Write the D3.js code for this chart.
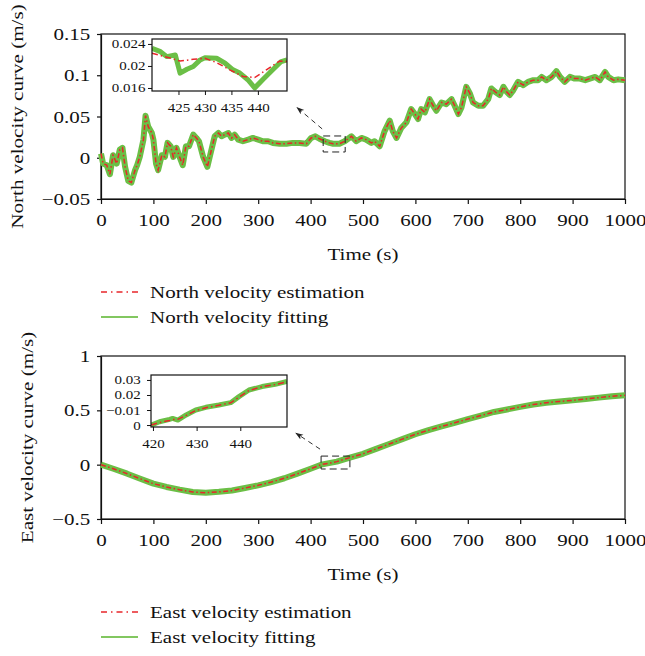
<!DOCTYPE html>
<html lang="en">
<head>
<meta charset="UTF-8">
<title>North and east velocity curves</title>
<script src="https://d3js.org/d3.v7.min.js"></script>
<style>
  body { margin: 0; background: #fff; }
  svg text { font-family: 'Liberation Serif', 'Times New Roman', serif; fill: #111; }
  .domain, .tick line { stroke: #111; }
</style>
</head>
<body>
<div id="chart"></div>
<script>
// ---- data ----
const northTime = [0,4,11,17,23,30,36,41,46,52,58,65,69,74,81,85,90,97,100,105,109,116,122,127,133,138,144,150,156,162,168,176,182,187,195,203,209,217,224,230,236,243,249,255,262,271,281,290,300,309,319,328,341,354,366,379,392,401,409,417,427,436,443,455,465,478,487,497,506,516,522,532,541,551,557,564,573,583,592,599,605,611,618,627,634,640,650,659,669,675,682,688,697,704,710,720,729,739,745,752,761,768,774,780,787,796,806,815,825,834,841,850,860,869,876,885,895,904,914,924,933,943,952,962,968,978,987,1000];
const northFit = [0.005,-0.007,-0.009,-0.02,0.003,-0.007,0.01,0.012,-0.011,-0.028,-0.03,-0.015,-0.009,0.001,0.022,0.051,0.038,0.03,0.022,-0.007,-0.015,0.003,0.001,0.018,0.014,0.001,0.012,0.001,-0.009,0.014,0.014,0.028,0.024,0.02,0.001,-0.011,0.005,0.026,0.03,0.026,0.028,0.03,0.024,0.028,0.022,0.02,0.022,0.024,0.022,0.02,0.02,0.018,0.017,0.017,0.018,0.018,0.017,0.024,0.026,0.023,0.02,0.018,0.017,0.017,0.02,0.026,0.02,0.024,0.022,0.018,0.02,0.014,0.032,0.045,0.032,0.024,0.036,0.043,0.059,0.053,0.047,0.059,0.055,0.071,0.063,0.057,0.067,0.065,0.071,0.063,0.053,0.061,0.086,0.078,0.067,0.063,0.063,0.071,0.084,0.08,0.076,0.086,0.08,0.076,0.082,0.092,0.088,0.092,0.094,0.094,0.098,0.094,0.098,0.105,0.098,0.092,0.098,0.096,0.096,0.094,0.096,0.098,0.094,0.104,0.098,0.094,0.095,0.094];
const northEst = northFit; // estimation runs on top of the fitting at this scale

const eastTime = [0,25,50,75,100,125,150,175,200,225,250,275,300,325,350,375,400,420,450,475,500,525,550,575,600,625,650,675,700,725,750,775,800,825,850,875,900,925,950,975,1000];
const eastFit = [0,-0.04,-0.083,-0.13,-0.175,-0.205,-0.23,-0.252,-0.258,-0.25,-0.238,-0.215,-0.19,-0.16,-0.125,-0.083,-0.038,0,0.028,0.065,0.1,0.145,0.19,0.235,0.28,0.318,0.352,0.385,0.42,0.452,0.485,0.508,0.532,0.553,0.57,0.582,0.592,0.605,0.617,0.63,0.638];
const eastEst = eastFit;

// zoomed windows
const nZoomTime = [420,421.6,422.8,424.4,425.3,426.6,427.8,429.1,430,432.2,433.8,435.3,436.6,438.1,439.4,440.9,442.8,444.4,445.5];
const nZoomFit  = [0.0232,0.0226,0.0217,0.022,0.0187,0.0194,0.0199,0.0211,0.0215,0.0214,0.0205,0.0193,0.0187,0.0175,0.016,0.0175,0.0193,0.0208,0.0211];
const nZoomEstTime = [420,422.8,425.3,427.8,430,432.2,434.7,437.2,439.4,441.6,444.1,445.5];
const nZoomEst = [0.0223,0.0216,0.0209,0.0212,0.0214,0.0206,0.0193,0.0181,0.0179,0.0193,0.0209,0.0208];

const eZoomTime = [419.6,421.5,423.8,424.5,425.7,427.6,429.8,432.1,435.1,437.8,439.7,442,445,448,450.7];
const eZoomFit  = [0,0.0022,0.0038,0.0044,0.0033,0.0067,0.01,0.0118,0.0133,0.0149,0.0189,0.0233,0.0256,0.0271,0.029];
const eZoomEst  = [0,0.0017,0.003,0.0036,0.0038,0.0064,0.0097,0.0115,0.0132,0.0148,0.0185,0.023,0.0255,0.0269,0.0288];

const xTicks = [0,100,200,300,400,500,600,700,800,900,1000];
const northTicks = [-0.05,0,0.05,0.1,0.15];
const northTickLabels = ["\u22120.05","0","0.05","0.1","0.15"];
const eastTicks = [-0.5,0,0.5,1];
const eastTickLabels = ["\u22120.5","0","0.5","1"];
const nZoomXTicks = [425,430,435,440];
const nZoomYTicks = [0.016,0.02,0.024];
const nZoomYLabels = ["0.016","0.02","0.024"];
const eZoomXTicks = [420,430,440];
const eZoomYTicks = [0,0.01,0.02,0.03];
const eZoomYLabels = ["0","\u22120.01","0.02","0.03"];

// ---- drawing ----
const SX = 1.2; // the source type is set a little wide
const GREEN = "#6bbf46", RED = "#e8262a";

const svg = d3.select("#chart").append("svg")
    .attr("width", 645).attr("height", 656);

function stretchTicks(g) {
    g.selectAll(".tick text").attr("transform", `scale(${SX},1)`);
}

function label(x, y, txt, size, anchor, rotate) {
    svg.append("text")
        .attr("transform", `translate(${x},${y})${rotate ? " rotate(-90)" : ""} scale(${SX},1)`)
        .attr("text-anchor", anchor)
        .style("font-size", size + "px")
        .text(txt);
}

function panel(o) {
    const x = d3.scaleLinear().domain([0, 1000]).range([101, 625]);
    const y = d3.scaleLinear().domain(o.yDomain).range([o.bottom, o.top]);

    const xa = svg.append("g")
        .attr("transform", `translate(0,${o.bottom})`)
        .call(d3.axisBottom(x).tickValues(xTicks).tickFormat(d3.format("d"))
            .tickSize(5).tickPadding(10).tickSizeOuter(0));
    const ya = svg.append("g")
        .attr("transform", "translate(101,0)")
        .call(d3.axisLeft(y).tickValues(o.yTicks).tickFormat((d, i) => o.yLabels[i])
            .tickSize(4).tickPadding(5).tickSizeOuter(0));
    [xa, ya].forEach(g => {
        g.selectAll(".tick text").style("font-size", "17.5px");
        g.selectAll("line, path").attr("stroke-width", 1.2);
        stretchTicks(g);
    });
    svg.append("rect")
        .attr("x", 101).attr("y", o.top).attr("width", 524).attr("height", o.bottom - o.top)
        .attr("fill", "none").attr("stroke", "#111").attr("stroke-width", 1.2);

    const line = d3.line().x(d => x(d[0])).y(d => y(d[1]));
    svg.append("path")
        .attr("d", line(d3.zip(o.time, o.fit)))
        .attr("fill", "none").attr("stroke", GREEN).attr("stroke-width", 6)
        .attr("stroke-linejoin", "round");
    svg.append("path")
        .attr("d", line(d3.zip(o.time, o.est)))
        .attr("fill", "none").attr("stroke", RED).attr("stroke-width", 1.5)
        .attr("stroke-dasharray", "5,2.5,1.5,2.5");

    // zoom window marker and arrow
    svg.append("rect")
        .attr("x", x(o.box[0])).attr("y", y(o.box[3]))
        .attr("width", x(o.box[1]) - x(o.box[0])).attr("height", y(o.box[2]) - y(o.box[3]))
        .attr("fill", "none").attr("stroke", "#222").attr("stroke-width", 1)
        .attr("stroke-dasharray", "7,4");
    svg.append("line")
        .attr("x1", x(o.arrow[0])).attr("y1", y(o.arrow[1]))
        .attr("x2", x(o.arrow[2])).attr("y2", y(o.arrow[3]))
        .attr("stroke", "#333").attr("stroke-width", 1)
        .attr("stroke-dasharray", "5,4")
        .attr("marker-end", "url(#head)");

    // inset
    const ix = d3.scaleLinear().domain(o.inset.xDomain).range([o.inset.x0, o.inset.x1]);
    const iy = d3.scaleLinear().domain(o.inset.yDomain).range([o.inset.y1, o.inset.y0]);
    const clipId = "clip" + o.top;
    svg.append("clipPath").attr("id", clipId).append("rect")
        .attr("x", o.inset.x0).attr("y", o.inset.y0)
        .attr("width", o.inset.x1 - o.inset.x0).attr("height", o.inset.y1 - o.inset.y0);
    svg.append("rect")
        .attr("x", o.inset.x0).attr("y", o.inset.y0)
        .attr("width", o.inset.x1 - o.inset.x0).attr("height", o.inset.y1 - o.inset.y0)
        .attr("fill", "#fff");
    const il = d3.line().x(d => ix(d[0])).y(d => iy(d[1]));
    const ig = svg.append("g").attr("clip-path", `url(#${clipId})`);
    ig.append("path")
        .attr("d", il(d3.zip(o.inset.time, o.inset.fit)))
        .attr("fill", "none").attr("stroke", GREEN).attr("stroke-width", 5)
        .attr("stroke-linejoin", "round");
    ig.append("path")
        .attr("d", il(d3.zip(o.inset.estTime, o.inset.est)))
        .attr("fill", "none").attr("stroke", RED).attr("stroke-width", 1.5)
        .attr("stroke-dasharray", "6,3,1.5,3");
    const ixa = svg.append("g")
        .attr("transform", `translate(0,${o.inset.y1})`)
        .call(d3.axisBottom(ix).tickValues(o.inset.xTicks).tickSize(4).tickPadding(o.inset.xPad).tickSizeOuter(0));
    const iya = svg.append("g")
        .attr("transform", `translate(${o.inset.x0},0)`)
        .call(d3.axisLeft(iy).tickValues(o.inset.yTicks).tickFormat((d, i) => o.inset.yLabels[i])
            .tickSize(4).tickPadding(o.inset.yPad).tickSizeOuter(0));
    [ixa, iya].forEach(g => {
        g.selectAll(".tick text").style("font-size", "12.5px");
        g.select(".domain").remove();
        stretchTicks(g);
    });
    svg.append("rect")
        .attr("x", o.inset.x0).attr("y", o.inset.y0)
        .attr("width", o.inset.x1 - o.inset.x0).attr("height", o.inset.y1 - o.inset.y0)
        .attr("fill", "none").attr("stroke", "#111").attr("stroke-width", 1.2);

    // titles
    label(o.titleX, (o.top + o.bottom) / 2, o.title, 17.6, "middle", true);
    label(363, o.bottom + 61, "Time (s)", 17.5, "middle", false);

    // legend
    const lg = svg.append("g");
    lg.append("line").attr("x1", 101).attr("x2", 138).attr("y1", o.bottom + 93).attr("y2", o.bottom + 93)
        .attr("stroke", RED).attr("stroke-width", 1.3).attr("stroke-dasharray", "6,4,1.5,4");
    lg.append("line").attr("x1", 101).attr("x2", 138).attr("y1", o.bottom + 118).attr("y2", o.bottom + 118)
        .attr("stroke", "#82c760").attr("stroke-width", 1.8);
    label(150, o.bottom + 99, o.legend[0], 17.5, "start", false);
    label(150, o.bottom + 124, o.legend[1], 17.5, "start", false);
}

svg.append("defs").append("marker")
    .attr("id", "head").attr("viewBox", "0 0 10 10").attr("refX", 9).attr("refY", 5)
    .attr("markerWidth", 8).attr("markerHeight", 8).attr("orient", "auto")
    .append("path").attr("d", "M0,1.5L10,5L0,8.5L2.5,5Z").attr("fill", "#222");

panel({
    top: 34, bottom: 199, yDomain: [-0.05, 0.15],
    yTicks: northTicks, yLabels: northTickLabels,
    time: northTime, fit: northFit, est: northEst,
    box: [424, 466, 0.007, 0.0264], arrow: [422, 0.035, 374, 0.061],
    title: "North velocity curve (m/s)", titleX: 23,
    legend: ["North velocity estimation", "North velocity fitting"],
    inset: {
        x0: 152, x1: 287, y0: 39, y1: 91,
        xDomain: [420, 445.5], yDomain: [0.01545, 0.0249],
        time: nZoomTime, fit: nZoomFit, estTime: nZoomEstTime, est: nZoomEst,
        xTicks: nZoomXTicks, yTicks: nZoomYTicks, yLabels: nZoomYLabels,
        xPad: 8, yPad: 1.5
    }
});

panel({
    top: 356, bottom: 519, yDomain: [-0.5, 1],
    yTicks: eastTicks, yLabels: eastTickLabels,
    time: eastTime, fit: eastFit, est: eastEst,
    box: [420, 475, -0.04, 0.079], arrow: [418, 0.143, 372, 0.29],
    title: "East velocity curve (m/s)", titleX: 33,
    legend: ["East velocity estimation", "East velocity fitting"],
    inset: {
        x0: 151, x1: 287, y0: 375, y1: 427,
        xDomain: [419.55, 450.7], yDomain: [-0.0013, 0.0333],
        time: eZoomTime, fit: eZoomFit, estTime: eZoomTime, est: eZoomEst,
        xTicks: eZoomXTicks, yTicks: eZoomYTicks, yLabels: eZoomYLabels,
        xPad: 8, yPad: 4.5
    }
});
</script>
</body>
</html>
